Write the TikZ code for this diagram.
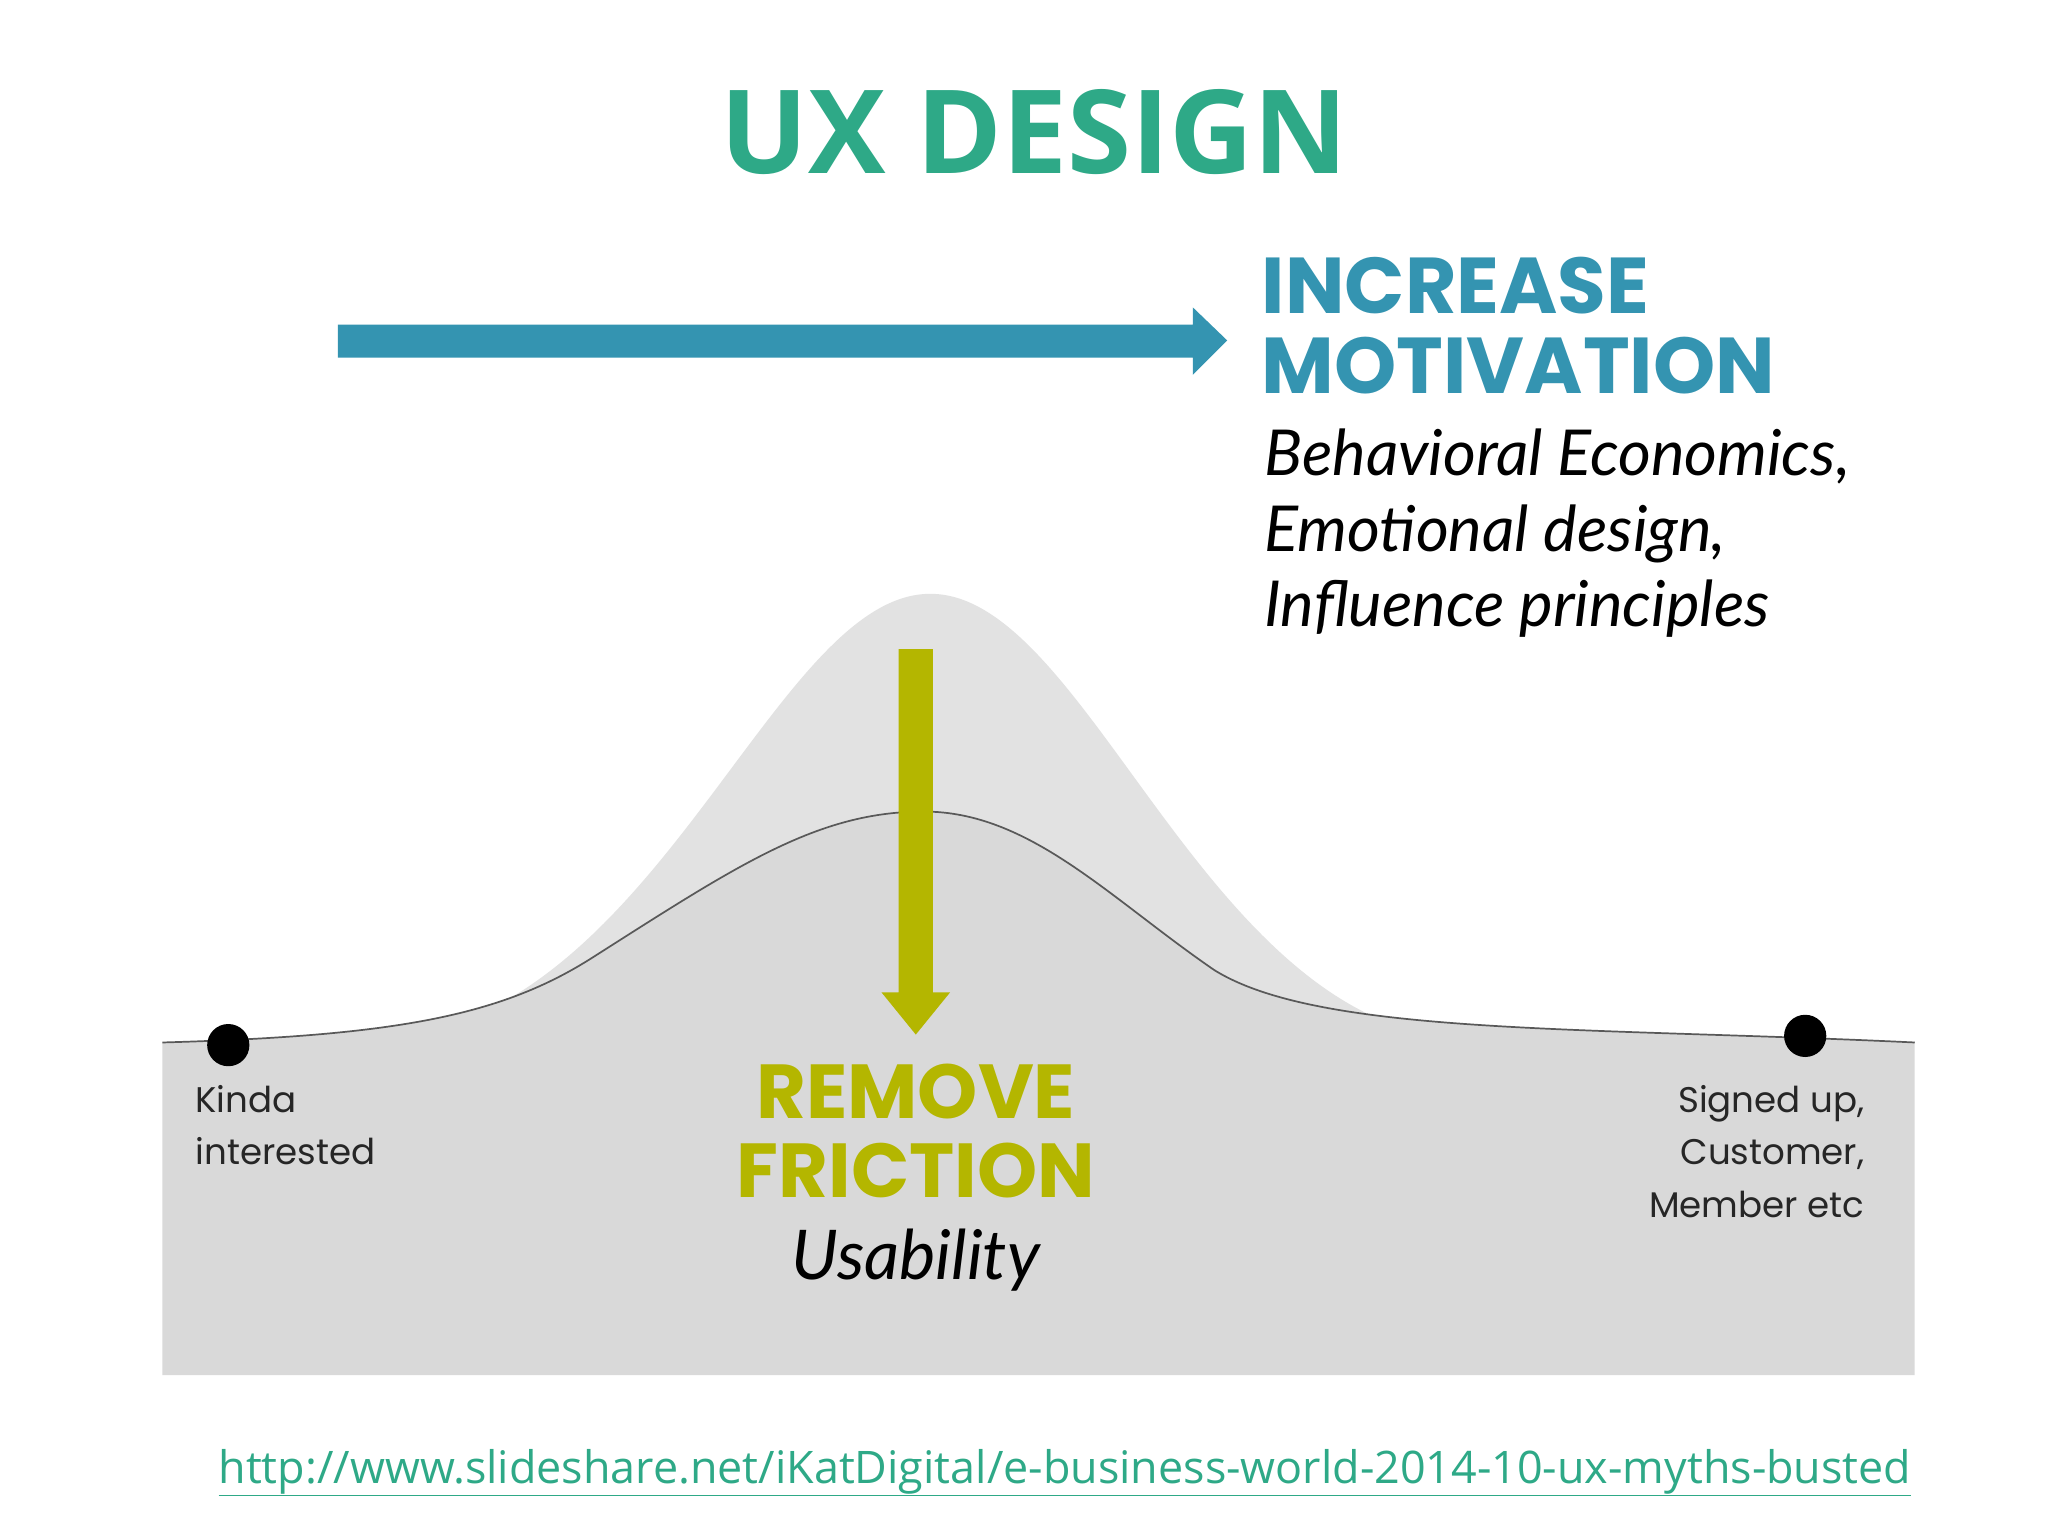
\documentclass[tikz,border=0pt]{standalone}
\usepackage{fontspec}
\setmainfont{Open Sans}
\newfontfamily\pop{Poppins}
\newfontfamily\hand{Lato}
\definecolor{ttl}{HTML}{2EA987}
\definecolor{blu}{HTML}{3494B1}
\definecolor{olv}{HTML}{B4B600}
\definecolor{gA}{HTML}{D9D9D9}
\definecolor{gB}{HTML}{E2E2E2}
\tikzset{lbl/.style={inner sep=0pt,font=\pop\fontsize{27}{40}\selectfont,text=black!85}}
\begin{document}
\begin{tikzpicture}[x=1pt,y=-1pt]
\useasboundingbox (0,0) rectangle (1552,1164);
\fill[white] (0,0) rectangle (1552,1164);
\node[font=\bfseries\fontsize{88}{88}\selectfont,text=ttl] (title) at (784,100) {UX DESIGN};
% bump
\fill[gB] (360,770) .. controls (520,700) and (600,450) .. (705,450) .. controls (810,450) and (890,700) .. (1040,770) -- cycle;
% main area
\fill[gA] (123,790) .. controls (300,785) and (380,770) .. (450,725) .. controls (560,655) and (620,615) .. (700,615) .. controls (780,615) and (840,680) .. (920,735) .. controls (1000,785) and (1200,778) .. (1451,790) -- (1451,1042) -- (123,1042) -- cycle;
\draw[black!65,line width=1.3pt] (123,790) .. controls (300,785) and (380,770) .. (450,725) .. controls (560,655) and (620,615) .. (700,615) .. controls (780,615) and (840,680) .. (920,735) .. controls (1000,785) and (1200,778) .. (1451,790);
\fill (173,792) circle (16) coordinate (p1);
\fill (1368,785) circle (16) coordinate (p2);
% blue arrow
\coordinate (b1) at (256,258);
\coordinate (b2) at (930,258);
\fill[blu] (256,246) -- (904,246) -- (904,233) -- (930,258) -- (904,284) -- (904,271) -- (256,271) -- cycle;
% olive arrow
\fill[olv] (681,492) -- (707,492) -- (707,752) -- (720,752) -- (694,784) -- (668,752) -- (681,752) -- cycle;
\node[anchor=north west,align=left,inner sep=0pt,font=\pop\bfseries\fontsize{60}{60}\selectfont,text=blu] (inc) at (956,195) {INCREASE\\MOTIVATION};
\node[anchor=north west,align=left,inner sep=0pt,font=\hand\itshape\fontsize{48}{57}\selectfont] (beh) at (958,325) {Behavioral Economics,\\Emotional design,\\Influence principles};
\node[align=center,inner sep=0pt,font=\pop\bfseries\fontsize{58}{60}\selectfont,text=olv] (rem) at (694,857) {REMOVE\\FRICTION};
\node[inner sep=0pt,font=\hand\itshape\fontsize{52}{52}\selectfont] (usa) at (694,955) {Usability};
\node[lbl,anchor=north west,align=left] (kin) at (148,822) {Kinda\\interested};
\node[lbl,anchor=north east,align=right] (sig) at (1413,822) {Signed up,\\Customer,\\Member etc};
\node[font=\fontsize{34}{34}\selectfont,text=ttl,inner sep=0pt] (url) at (807,1116) {\underline{http://www.slideshare.net/iKatDigital/e-business-world-2014-10-ux-myths-busted}};
\end{tikzpicture}
\end{document}
